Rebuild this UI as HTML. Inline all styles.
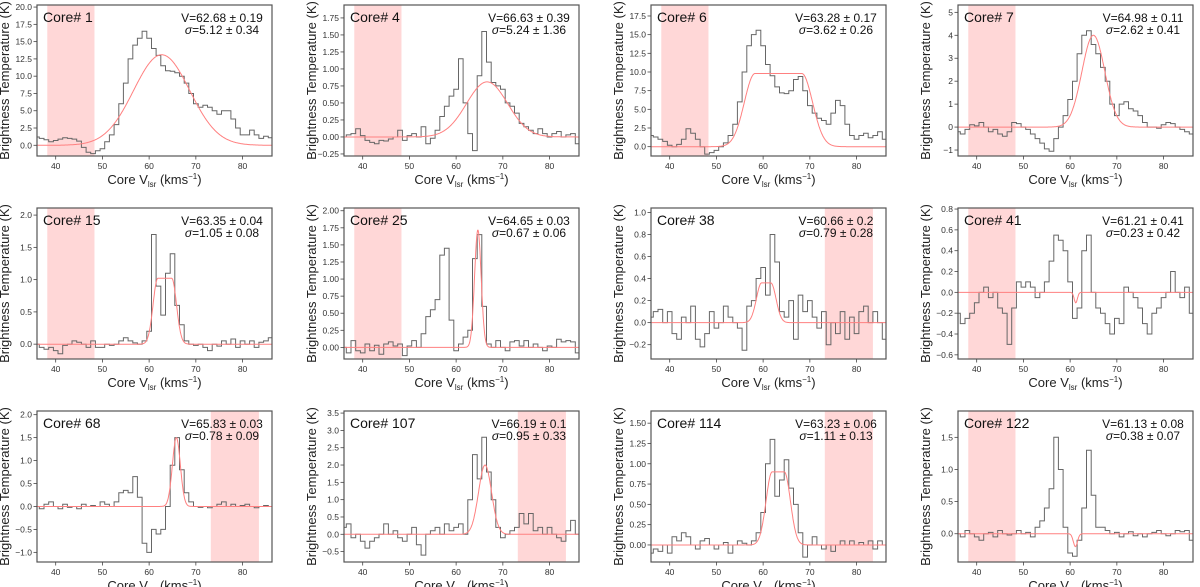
<!DOCTYPE html>
<html><head><meta charset="utf-8">
<style>
html,body{margin:0;padding:0;background:#fff;}
svg{display:block;font-family:"Liberation Sans","DejaVu Sans",sans-serif;}
</style></head>
<body>
<svg id="fig" width="1200" height="587" viewBox="0 0 1200 587" xmlns="http://www.w3.org/2000/svg"></svg>
<script>
// ---- data ----
const velocities = [36,37,38,39,40,41,42,43,44,45,46,47,48,49,50,51,52,53,54,55,56,57,58,59,60,61,62,63,64,65,66,67,68,69,70,71,72,73,74,75,76,77,78,79,80,81,82,83,84,85,86];
const coreIds = [1,4,6,7,15,25,38,41,68,107,114,122];
const core1 = [1.2,1.0,0.8,0.5,0.7,0.9,1.1,1.0,0.9,0.6,-0.3,-1.0,-1.2,-0.8,-0.5,0.5,1.5,3.0,6.0,9.0,12.5,14.5,15.5,16.5,15.5,14,13,11.5,10.8,10.7,10.5,10,9,7.5,6,5.5,5.8,5.5,5,4.5,5,5,3.8,2.5,1.5,1.5,2.2,1.5,1,1.3,1.1];
const core4 = [0.0,0.03,0.05,0.12,0.02,-0.05,-0.08,-0.1,-0.05,-0.06,-0.03,0.0,0.1,-0.05,0.02,0.05,0.0,0.15,-0.1,-0.02,0.1,0.3,0.45,0.6,0.7,1.15,0.5,0.05,-0.2,0.9,1.55,1.1,0.8,0.75,0.7,0.5,0.45,0.35,0.2,0.15,0.1,0.05,0.12,0.05,0.0,0.05,0.08,0.0,0.03,0.05,-0.1];
const core6 = [1.5,1.3,1.0,0.7,0.2,0.0,0.3,1.0,2.4,1.8,1.0,0.0,-1.0,-0.8,-0.5,0,0.5,1.5,3,6,10,13.5,15,15.6,13.5,11,9.5,8,7.2,7.1,7.5,9,9.4,7.5,5.5,4.5,3.8,3.5,3.0,4.5,6.2,5.5,3.0,1.5,1.0,1.5,1.8,1.2,1.5,2.0,1.0];
const core7 = [-0.2,-0.3,-0.1,0.1,0.05,0.2,0.0,-0.2,-0.1,-0.3,-0.4,-0.2,0.2,0.15,0.0,-0.1,-0.3,-0.5,-0.7,-0.95,-1.05,-0.5,0.0,0.5,1.2,2.0,3.2,4.0,4.2,3.6,3.2,2.6,2.0,1.0,0.5,1.0,1.1,0.8,0.7,0.5,0.2,0.0,0.0,-0.05,0.1,0.2,0.15,0.0,-0.1,-0.2,-0.3];
const core15 = [0,-0.05,-0.08,-0.05,-0.1,-0.15,-0.02,0.0,0.05,0.03,0.0,-0.05,0.05,-0.05,-0.05,0.0,-0.02,0.0,0.05,0.1,0.05,0.02,0.0,0.05,0.2,1.7,0.9,0.45,1.1,1.4,0.6,0.3,0.05,0.0,-0.02,0.0,-0.05,-0.1,0.0,-0.03,0.05,0.0,0.08,-0.05,0.05,0.0,0.05,-0.05,0.03,0.05,0.1];
const core25 = [0.0,-0.08,0.1,-0.05,-0.08,0.05,-0.05,0.03,-0.1,0.05,0.08,0.02,0.05,-0.12,0.02,0.1,0.0,0.2,0.45,0.55,0.7,1.35,1.45,0.4,-0.05,0.05,0.15,0.25,1.3,1.65,0.6,0.05,0.0,0.1,0.0,-0.05,0.08,0.1,0.02,0.1,0.0,0.05,0.0,-0.05,0.02,0.0,0.12,0.08,0.1,0.08,-0.08];
const core38 = [0.05,0.1,0.12,0.0,0.1,-0.1,-0.15,0.05,0.0,0.15,-0.15,-0.22,-0.1,0.1,-0.05,0.0,0.15,0.05,0.0,-0.05,-0.25,0.15,0.2,0.4,0.5,0.25,0.8,0.55,0.1,0.05,0.2,-0.15,0.25,0.1,0.2,0.05,-0.05,0.1,-0.2,0.0,-0.1,0.1,-0.15,0.05,-0.1,0.1,0.15,0.0,0.1,0.0,-0.15];
const core41 = [-0.2,-0.3,-0.25,-0.2,-0.1,0.0,0.05,-0.05,0.0,-0.15,-0.2,-0.5,-0.15,0.1,0.05,0.1,0.05,-0.05,0.0,0.1,0.3,0.55,0.5,0.4,0.1,-0.25,-0.15,0.4,0.55,0.0,-0.15,-0.2,-0.3,-0.4,-0.25,-0.3,0.05,0.0,-0.05,-0.15,-0.3,-0.4,-0.2,-0.15,-0.05,0.0,0.2,0.0,-0.05,0.05,-0.2];
const core68 = [0.0,-0.05,0.05,0.1,0.0,-0.05,0.05,-0.02,0.0,-0.05,0.05,0.0,0.02,0.0,0.1,0.05,0.0,0.1,0.3,0.35,0.3,0.65,0.2,-0.8,-1.0,-0.5,-0.6,-0.5,0.0,0.9,1.5,0.8,0.3,0.1,0.0,-0.02,0.0,-0.03,0.0,0.05,0.1,0.0,0.05,0.0,0.02,0.05,0.0,-0.03,0.0,0.02,0.0];
const core107 = [0.2,0.3,-0.1,0.0,-0.2,-0.4,-0.2,-0.1,0.0,0.3,0.0,0.1,-0.1,-0.2,0.0,0.2,-0.3,-0.6,0.0,0.1,0.2,0.0,0.3,0.1,0.2,0.3,0.0,1.0,2.3,1.6,2.8,1.8,1.0,0.2,-0.1,0.0,0.1,0.2,0.6,0.3,0.6,0.1,0.2,0.0,0.2,0.0,-0.1,-0.2,0.1,0.4,0.0];
const core114 = [-0.1,-0.05,-0.08,0.0,-0.1,0.1,0.05,0.15,0.1,0.0,-0.05,0.05,0.08,0.0,-0.05,0.0,0.03,-0.1,0.0,0.05,0.02,0.0,0.05,0.15,0.4,1.0,1.3,0.6,0.8,1.05,0.7,0.5,0.15,-0.15,0.0,0.1,0.0,-0.05,0.0,-0.08,0.0,0.05,0.0,0.05,0.0,0.03,0.0,0.05,-0.05,0.05,0.0];
const core122 = [0.0,-0.05,0.05,0.0,-0.05,-0.1,0.0,0.02,-0.05,0.05,0.0,-0.02,0.0,0.05,0.0,0.02,-0.05,0.1,0.2,0.4,0.7,1.5,1.0,0.1,-0.3,-0.35,-0.1,0.4,1.3,0.6,0.1,0.1,0.05,0.0,0.02,-0.05,0.0,0.03,-0.03,0.0,-0.05,0.0,0.02,0.05,0.0,-0.03,0.0,0.05,0.03,0.05,-0.1];
const spectra = [core1,core4,core6,core7,core15,core25,core38,core41,core68,core107,core114,core122];
// fit model parameters: amplitude, centre, gaussian width, plateau half-width
const fitAmp = [13.1,0.81,9.8,4.0,1.02,1.72,0.36,-0.1,1.5,2.0,0.9,-0.2];
const fitCenter = [62.68,66.63,63.28,64.98,63.35,64.65,60.66,61.21,65.83,66.19,63.23,61.13];
const fitWidth = [6.0,4.4,2.3,2.45,1.0,0.7,1.1,0.35,0.85,1.4,1.3,0.45];
const fitPlateau = [0,0,5,0,1.5,0,1.0,0,0,0,1.3,0];
const vLabels = ["V=62.68 ± 0.19","V=66.63 ± 0.39","V=63.28 ± 0.17","V=64.98 ± 0.11","V=63.35 ± 0.04","V=64.65 ± 0.03","V=60.66 ± 0.2","V=61.21 ± 0.41","V=65.83 ± 0.03","V=66.19 ± 0.1","V=63.23 ± 0.06","V=61.13 ± 0.08"];
const sigmaLabels = ["5.12 ± 0.34","5.24 ± 1.36","3.62 ± 0.26","2.62 ± 0.41","1.05 ± 0.08","0.67 ± 0.06","0.79 ± 0.28","0.23 ± 0.42","0.78 ± 0.09","0.95 ± 0.33","1.11 ± 0.13","0.38 ± 0.07"];
const yMin = [-1.55,-0.28,-1.25,-1.26,-0.23,-0.17,-0.33,-0.64,-1.21,-0.80,-0.21,-0.44];
const yMax = [20.3,1.94,18.97,5.32,2.11,2.04,1.04,0.81,2.08,3.56,1.65,1.91];
const yTicks = [
 ["0.0","2.5","5.0","7.5","10.0","12.5","15.0","17.5","20.0"],
 ["−0.25","0.00","0.25","0.50","0.75","1.00","1.25","1.50","1.75"],
 ["0.0","2.5","5.0","7.5","10.0","12.5","15.0","17.5"],
 ["−1","0","1","2","3","4","5"],
 ["0.0","0.5","1.0","1.5","2.0"],
 ["0.00","0.25","0.50","0.75","1.00","1.25","1.50","1.75","2.00"],
 ["−0.2","0.0","0.2","0.4","0.6","0.8","1.0"],
 ["−0.6","−0.4","−0.2","0.0","0.2","0.4","0.6","0.8"],
 ["−1.0","−0.5","0.0","0.5","1.0","1.5","2.0"],
 ["−0.5","0.0","0.5","1.0","1.5","2.0","2.5","3.0","3.5"],
 ["0.00","0.25","0.50","0.75","1.00","1.25","1.50"],
 ["0.0","0.5","1.0","1.5"]];
const xTicks = [40,50,60,70,80];
const shadeStart = [38.2,38.2,38.2,38.2,38.2,38.2,73.2,38.2,73.2,73.2,73.2,38.2];
const shadeEnd = [48.3,48.3,48.3,48.3,48.3,48.3,83.5,48.3,83.5,83.5,83.5,48.3];
const xMin = 36, xMax = 86.3;

// ---- layout ----
const NS = "http://www.w3.org/2000/svg";
const svg = document.getElementById('fig');
const colLeft = [37,344,651,958], rowTop = [5,208,411];
const W = 235, H = 151;
function mk(tag, attrs, parent){const e=document.createElementNS(NS,tag);for(const k in attrs)e.setAttribute(k,attrs[k]);parent.appendChild(e);return e;}
function fitVal(i,v){const d=Math.abs(v-fitCenter[i]);const dd=Math.max(0,d-fitPlateau[i]);return fitAmp[i]*Math.exp(-dd*dd/(2*fitWidth[i]*fitWidth[i]));}

for(let i=0;i<12;i++){
  const L=colLeft[i%4], T=rowTop[Math.floor(i/4)];
  const xs=v=>L+(v-xMin)/(xMax-xMin)*W;
  const ys=y=>T+H-(y-yMin[i])/(yMax[i]-yMin[i])*H;
  const g=mk('g',{},svg);
  
  
  const clipId='clip'+i;
  const cp=mk('clipPath',{id:clipId},g); mk('rect',{x:L,y:T,width:W,height:H},cp);
  const pg=mk('g',{'clip-path':'url(#'+clipId+')'},g);
  const sh=mk('rect',{x:xs(shadeStart[i]),y:T,width:xs(shadeEnd[i])-xs(shadeStart[i]),height:H,fill:'#ffd7d7'},pg);
  
  
  let d='';
  for(let k=0;k<velocities.length;k++){
    const v=velocities[k], y=ys(spectra[i][k]);
    const x0=xs(v-0.5), x1=xs(v+0.5);
    d+=(k===0?'M':'L')+x0.toFixed(1)+' '+y.toFixed(1)+' L'+x1.toFixed(1)+' '+y.toFixed(1)+' ';
  }
  const sp=mk('path',{d:d,fill:'none',stroke:'#666','stroke-width':1},pg);
  
  
  let fd='';
  for(let v=xMin;v<=xMax;v+=0.1){fd+=(v===xMin?'M':'L')+xs(v).toFixed(1)+' '+ys(fitVal(i,v)).toFixed(1)+' ';}
  const fp=mk('path',{d:fd,fill:'none',stroke:'#ff8080','stroke-width':1},pg);
  
  
  const fr=mk('rect',{x:L,y:T,width:W,height:H,fill:'none',stroke:'#555','stroke-width':1.2},g);
  
  
  xTicks.forEach(t=>{
    const x=xs(t);
    mk('line',{x1:x,y1:T+H,x2:x,y2:T+H+3.5,stroke:'#444','stroke-width':0.8},g);
    const tl=mk('text',{x:x,y:T+H+13,'font-size':8.5,fill:'#333','text-anchor':'middle'},g);
    tl.textContent=t;
    
    
  });
  yTicks[i].forEach(s=>{
    const val=parseFloat(s.replace('−','-'));
    const y=ys(val);
    mk('line',{x1:L-3.5,y1:y,x2:L,y2:y,stroke:'#444','stroke-width':0.8},g);
    const tl=mk('text',{x:L-5,y:y+3,'font-size':8.5,fill:'#333','text-anchor':'end'},g);
    tl.textContent=s;
    
    
  });
  const xt=mk('text',{x:L+W/2,y:T+H+28,'font-size':13,fill:'#222','text-anchor':'middle'},g);
  xt.innerHTML='Core V<tspan font-size="8" dy="3">lsr</tspan><tspan dy="-3"> (kms</tspan><tspan font-size="8" dy="-5">−1</tspan><tspan dy="5">)</tspan>';
  
  
  const yx=L-28, yy=T+H/2;
  const yt=mk('text',{x:yx,y:yy,'font-size':13,fill:'#222','text-anchor':'middle',transform:'rotate(-90 '+yx+' '+yy+')'},g);
  yt.textContent='Brightness Temperature (K)';
  
  
  const ct=mk('text',{x:L+6,y:T+17,'font-size':14,fill:'#111'},g);
  ct.textContent='Core# '+coreIds[i];
  
  
  const vt=mk('text',{x:L+185,y:T+17,'font-size':12,fill:'#111','text-anchor':'middle'},g);
  vt.textContent=vLabels[i];
  
  
  const st=mk('text',{x:L+185,y:T+29,'font-size':12,fill:'#111','text-anchor':'middle'},g);
  st.innerHTML='<tspan font-style="italic">σ</tspan>='+sigmaLabels[i];
  
  
}
</script>
</body></html>
